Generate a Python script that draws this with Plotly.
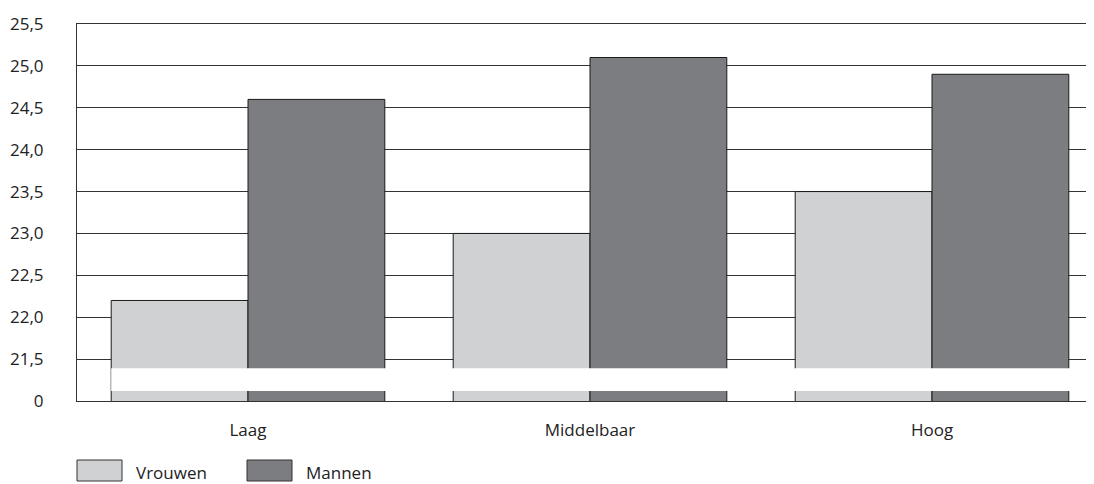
import plotly.graph_objects as go

categories = ["Laag", "Middelbaar", "Hoog"]
vrouwen = [22.2, 23.0, 23.5]
mannen = [24.6, 25.1, 24.9]
series_names = ["Vrouwen", "Mannen"]
tick_vals = [21.0, 21.5, 22.0, 22.5, 23.0, 23.5, 24.0, 24.5, 25.0, 25.5]
tick_text = ["0", "21,5", "22,0", "22,5", "23,0", "23,5", "24,0", "24,5", "25,0", "25,5"]

light = "#d0d1d3"
dark = "#7c7d80"
font = dict(family="Open Sans, Lato, sans-serif", size=17, color="#222222")

fig = go.Figure()
fig.add_trace(go.Bar(x=categories, y=vrouwen, name=series_names[0],
                     marker=dict(color=light, line=dict(color="#1a1a1a", width=1))))
fig.add_trace(go.Bar(x=categories, y=mannen, name=series_names[1],
                     marker=dict(color=dark, line=dict(color="#1a1a1a", width=1))))

# page has an 8px body margin; compensate so the picture lines up
OFF = 8
PW, PH = 1094, 484
W, H = PW - OFF, PH - OFF
plot_left, plot_top, plot_bottom = 77, 24, 401
ml, mr, mt, mb = plot_left - OFF, 0, plot_top - OFF, PH - plot_bottom
pw = PW - plot_left
ph = plot_bottom - plot_top

def px_x(p):
    return (p - plot_left) / pw

def px_y(p):
    return (plot_bottom - p) / ph

shapes = [
    # axis-break white band
    dict(type="rect", xref="x", yref="y", x0=-0.4, x1=2.6, y0=21.12, y1=21.39,
         fillcolor="white", line=dict(width=0), layer="above"),
    # legend swatches
    dict(type="rect", xref="paper", yref="paper", x0=px_x(77), x1=px_x(122),
         y0=px_y(481), y1=px_y(460), fillcolor=light, line=dict(color="#333", width=1)),
    dict(type="rect", xref="paper", yref="paper", x0=px_x(247), x1=px_x(292),
         y0=px_y(481), y1=px_y(460), fillcolor=dark, line=dict(color="#333", width=1)),
]
annotations = [
    dict(text=series_names[0], xref="paper", yref="paper", x=px_x(134), y=px_y(473),
         xanchor="left", yanchor="middle", showarrow=False, font=font),
    dict(text=series_names[1], xref="paper", yref="paper", x=px_x(304), y=px_y(473),
         xanchor="left", yanchor="middle", showarrow=False, font=font),
]

fig.update_layout(
    width=W, height=H, autosize=False,
    margin=dict(l=ml, r=mr, t=mt, b=mb, pad=0),
    plot_bgcolor="white", paper_bgcolor="white",
    barmode="group", bargap=0.2, bargroupgap=0,
    showlegend=False, font=font,
    shapes=shapes, annotations=annotations,
)
fig.update_xaxes(range=[-0.5, 2.5 - 9 / 342], showline=True, linecolor="#333", linewidth=1,
                 mirror=True, showgrid=False, ticks="", ticklabelstandoff=14,
                 tickfont=font, fixedrange=True)
fig.update_yaxes(range=[21.0, 25.5], tickvals=tick_vals, ticktext=tick_text,
                 showgrid=True, gridcolor="#333", gridwidth=1, zeroline=False,
                 showline=True, linecolor="#333", linewidth=1, ticks="",
                 ticklabelstandoff=29, tickfont=font, fixedrange=True)

fig.write_html(
    "out.html",
    config={"displayModeBar": False},
    post_script="document.documentElement.style.overflow='hidden';document.body.style.overflow='hidden';",
)
